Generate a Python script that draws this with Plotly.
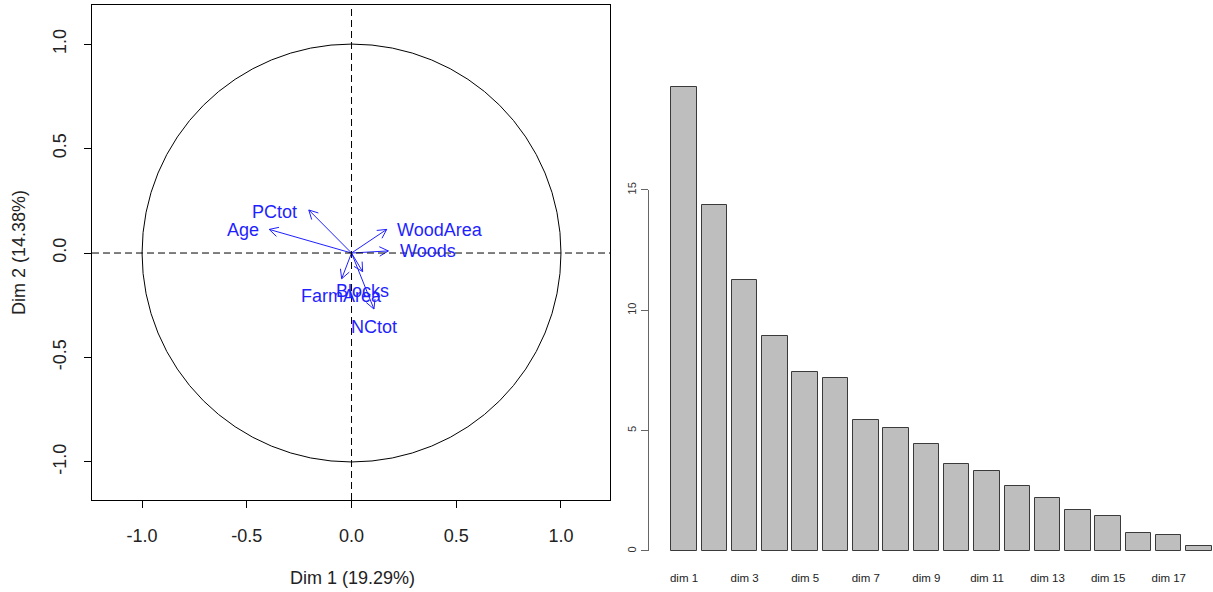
import math
import plotly.graph_objects as go

# ---------------- data ----------------
variables = ["PCtot", "Age", "WoodArea", "Woods", "FarmArea", "Blocks", "NCtot"]
dim1_coord = [-0.204, -0.393, 0.168, 0.176, -0.047, 0.053, 0.107]
dim2_coord = [0.206, 0.113, 0.113, 0.010, -0.123, -0.089, -0.268]
label_x = [-0.368, -0.518, 0.423, 0.363, -0.050, 0.053, 0.107]
label_y = [0.196, 0.110, 0.110, 0.010, -0.206, -0.182, -0.354]

dims = [f"dim {i}" for i in range(1, 19)]
eig_pct = [19.29, 14.38, 11.24, 8.92, 7.45, 7.20, 5.46, 5.11, 4.46,
           3.63, 3.32, 2.70, 2.21, 1.72, 1.45, 0.74, 0.67, 0.20]

xticks_left = [-1.0, -0.5, 0.0, 0.5, 1.0]
xtick_text = ["-1.0", "-0.5", "0.0", "0.5", "1.0"]
bar_yticks = [0, 5, 10, 15]

FW, FH = 1213, 592


def xp(p):
    return p / FW


def yp(p):
    return 1 - p / FH


FONT = "Liberation Sans, Arial, sans-serif"
BLUE = "#1f1fff"
TXT = "#222"

fig = go.Figure()

# ---------------- variable arrows ----------------
head_len = 0.048
ang = math.radians(28)
xs, ys = [], []
for x, y in zip(dim1_coord, dim2_coord):
    xs += [0, x, None]
    ys += [0, y, None]
    th = math.atan2(y, x)
    for s in (1, -1):
        xs += [x, x - head_len * math.cos(th + s * ang), None]
        ys += [y, y - head_len * math.sin(th + s * ang), None]
fig.add_trace(go.Scatter(x=xs, y=ys, mode="lines", line=dict(color=BLUE, width=1),
                         hoverinfo="skip", showlegend=False, xaxis="x", yaxis="y"))

for name, lx, ly in zip(variables, label_x, label_y):
    fig.add_annotation(x=lx, y=ly, xref="x", yref="y", text=name, showarrow=False,
                       xanchor="center", yanchor="middle",
                       font=dict(family=FONT, size=18, color=BLUE))

# ---------------- bar chart ----------------
bar_x = list(range(1, len(dims) + 1))
fig.add_trace(go.Bar(x=bar_x, y=eig_pct, width=0.84,
                     marker=dict(color="#bebebe", line=dict(color="#3a3a3a", width=1)),
                     showlegend=False, xaxis="x2", yaxis="y2", hoverinfo="skip"))

# circle + dashed axes
fig.add_shape(type="circle", xref="x", yref="y", x0=-1, x1=1, y0=-1, y1=1,
              line=dict(color="black", width=1))
fig.add_shape(type="line", xref="x", yref="paper", x0=0, x1=0, y0=yp(500), y1=yp(5),
              line=dict(color="black", width=1, dash="7px,4px"))
fig.add_shape(type="line", xref="paper", yref="y", x0=xp(92), x1=xp(610), y0=0, y1=0,
              line=dict(color="black", width=1, dash="7px,4px"))
# R-style bar y axis line (only from 0 to 15)
fig.add_shape(type="line", xref="paper", yref="y2", x0=xp(648.5), x1=xp(648.5), y0=0, y1=15,
              line=dict(color="#666", width=1))

fig.add_annotation(x=xp(352), y=yp(578), xref="paper", yref="paper",
                   text="Dim 1 (19.29%)", showarrow=False, xanchor="center", yanchor="middle",
                   font=dict(family=FONT, size=18, color=TXT))
fig.add_annotation(x=xp(19), y=yp(253), xref="paper", yref="paper",
                   text="Dim 2 (14.38%)", showarrow=False, textangle=-90,
                   xanchor="center", yanchor="middle",
                   font=dict(family=FONT, size=18, color=TXT))

fig.update_layout(
    width=FW, height=FH,
    margin=dict(l=0, r=0, t=0, b=0),
    paper_bgcolor="white", plot_bgcolor="white",
    bargap=0,
    xaxis=dict(domain=[xp(92), xp(610)], range=[-1.239, 1.234], showgrid=False, zeroline=False,
               showline=True, mirror=True, linecolor="black", linewidth=1,
               tickvals=xticks_left, ticktext=xtick_text, ticks="outside", ticklen=7,
               tickcolor="black", ticklabelstandoff=12,
               tickfont=dict(family=FONT, size=18, color=TXT), anchor="y"),
    yaxis=dict(domain=[yp(500), yp(5)], range=[-1.182, 1.187], showgrid=False, zeroline=False,
               showline=True, mirror=True, linecolor="black", linewidth=1,
               tickvals=xticks_left, ticktext=xtick_text, ticks="outside", ticklen=7,
               tickcolor="black", tickangle=-90, ticklabelstandoff=11,
               tickfont=dict(family=FONT, size=18, color=TXT), anchor="x"),
    xaxis2=dict(domain=[xp(649), 1.0], range=[-0.155, 18.46], showgrid=False, zeroline=False,
                showline=False, tickvals=bar_x[::2], ticktext=dims[::2], ticks="",
                tickfont=dict(family=FONT, size=11.5, color=TXT), ticklabelstandoff=4,
                anchor="y2"),
    yaxis2=dict(domain=[yp(565), yp(60)], range=[-0.582, 20.4], showgrid=False,
                zeroline=False, showline=False, tickvals=bar_yticks, ticks="outside", ticklen=7,
                tickcolor="#666", tickangle=-90, ticklabelstandoff=1,
                tickfont=dict(family=FONT, size=11, color="#333"), anchor="x2"),
)

fig.write_html("out.html", config={"displayModeBar": False},
               post_script="document.body.style.margin='0';document.body.style.overflow='hidden';")
